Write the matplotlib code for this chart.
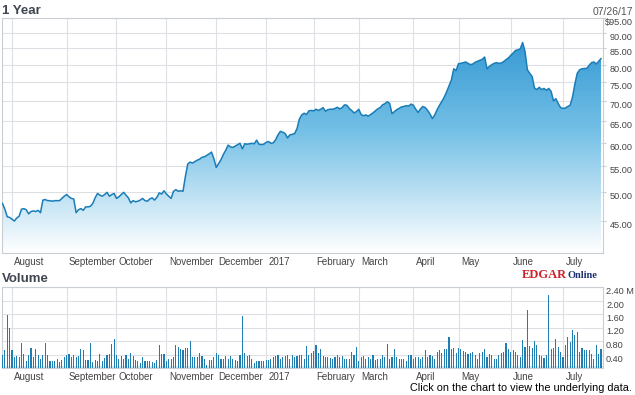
import numpy as np
import pandas as pd
import matplotlib
matplotlib.use("Agg")
import matplotlib.pyplot as plt
from matplotlib.colors import LinearSegmentedColormap
from matplotlib.ticker import NullLocator, NullFormatter

plt.rcParams["font.family"] = ["Liberation Sans", "DejaVu Sans"]

# trading days 07/26/16 - 07/26/17 (NYSE holidays removed)
holidays = ["2016-09-05", "2016-11-24", "2016-12-26", "2017-01-02", "2017-01-16",
            "2017-02-20", "2017-04-14", "2017-05-29", "2017-07-04"]
dates = pd.bdate_range("2016-07-26", "2017-07-26", freq="C", holidays=holidays)

close = [
    48.0, 47.0, 45.7, 45.6, 45.3, 45.0, 45.5, 45.8, 47.0, 47.1,
    46.9, 46.2, 46.6, 46.7, 46.6, 46.8, 46.4, 48.6, 48.7, 48.5,
    48.5, 48.4, 48.5, 48.5, 48.5, 48.9, 49.3, 49.6, 49.2, 48.9,
    48.8, 46.4, 46.9, 47.1, 46.8, 47.4, 47.4, 47.5, 48.0, 49.0,
    49.8, 49.5, 49.3, 49.6, 50.0, 49.3, 49.6, 49.8, 48.9, 49.2,
    49.6, 50.0, 49.5, 49.0, 48.1, 48.5, 48.3, 48.4, 48.6, 48.9,
    48.5, 48.4, 48.8, 49.0, 48.6, 49.1, 49.9, 49.7, 50.3, 49.7,
    49.3, 48.9, 50.2, 50.5, 50.2, 50.3, 50.2, 53.0, 55.5, 55.9,
    55.7, 56.0, 56.3, 56.5, 56.9, 57.0, 57.3, 57.6, 58.0, 56.6,
    54.8, 55.6, 56.4, 57.5, 58.4, 59.5, 59.1, 59.0, 59.3, 59.6,
    59.9, 58.7, 59.8, 59.7, 59.8, 59.9, 59.8, 60.6, 59.7, 59.6,
    59.7, 60.1, 60.3, 59.9, 60.0, 60.7, 61.8, 62.6, 62.4, 62.1,
    61.1, 61.8, 61.9, 62.1, 63.2, 65.5, 66.5, 66.9, 66.6, 67.5,
    67.6, 67.5, 67.9, 67.6, 67.9, 68.3, 67.4, 67.8, 67.9, 67.9,
    68.1, 68.4, 68.0, 68.3, 69.0, 68.9, 68.1, 67.6, 67.0, 67.3,
    67.9, 66.6, 66.3, 66.5, 66.2, 66.6, 67.0, 67.5, 68.0, 68.3,
    69.0, 69.3, 69.8, 69.4, 66.8, 67.3, 67.8, 68.1, 68.5, 68.6,
    68.8, 68.7, 69.2, 68.9, 67.9, 67.1, 68.0, 68.6, 68.3, 67.6,
    66.7, 65.6, 66.5, 67.8, 68.9, 69.9, 71.0, 72.4, 74.0, 75.6,
    78.8, 78.3, 80.3, 80.4, 80.6, 80.8, 80.4, 80.0, 80.2, 80.7,
    81.0, 81.3, 81.6, 82.3, 78.8, 79.5, 80.0, 80.4, 80.6, 80.4,
    80.5, 80.9, 81.5, 82.0, 82.8, 83.5, 84.3, 84.5, 84.8, 86.8,
    84.0, 78.5, 77.5, 76.6, 73.4, 73.0, 73.6, 73.0, 73.3, 72.8,
    73.3, 72.5, 70.0, 70.6, 69.3, 68.3, 68.1, 68.2, 68.6, 68.9,
    71.0, 74.5, 77.5, 78.5, 78.8, 78.9, 78.9, 79.8, 80.6, 80.8,
    80.2, 81.0, 81.8,
]

# volume in millions of shares
volume_m = [
    0.40, 0.52, 1.56, 1.19, 0.52, 0.33, 0.36, 0.33, 0.74, 0.42,
    0.20, 0.40, 0.59, 0.33, 0.55, 0.38, 0.26, 0.38, 0.75, 0.40,
    0.22, 0.20, 0.20, 0.26, 0.18, 0.23, 0.33, 0.38, 0.42, 0.33,
    0.38, 0.33, 0.35, 0.55, 0.52, 0.23, 0.23, 0.75, 0.18, 0.23,
    0.20, 0.41, 0.20, 0.30, 0.40, 0.42, 0.72, 0.85, 0.40, 0.28,
    0.36, 0.26, 0.38, 0.28, 0.45, 0.36, 0.23, 0.20, 0.16, 0.33,
    0.20, 0.22, 0.22, 0.18, 0.16, 0.23, 0.69, 0.42, 0.42, 0.20,
    0.28, 0.26, 0.33, 0.67, 0.62, 0.55, 0.52, 0.59, 0.59, 0.79,
    0.33, 0.33, 0.33, 0.45, 0.36, 0.26, 0.10, 0.23, 0.23, 0.33,
    0.45, 0.40, 0.28, 0.28, 0.36, 0.28, 0.36, 0.28, 0.25, 0.22,
    0.40, 1.53, 0.45, 0.36, 0.38, 0.26, 0.16, 0.22, 0.22, 0.22,
    0.20, 0.23, 0.23, 0.26, 0.33, 0.36, 0.38, 0.28, 0.33, 0.36,
    0.40, 0.28, 0.40, 0.33, 0.36, 0.40, 0.40, 0.26, 0.64, 0.40,
    0.45, 0.49, 0.69, 0.45,
    0.55, 0.35, 0.33, 0.33, 0.30, 0.26, 0.33, 0.38, 0.33, 0.35, 0.26,
    0.28, 0.28, 0.47, 0.40, 0.62, 0.20, 0.33, 0.36,
    0.26, 0.33, 0.26, 0.38, 0.23, 0.28, 0.28, 0.38, 0.32, 0.70,
    0.26, 0.33, 0.55, 0.33, 0.28, 0.26,
    0.26, 0.20, 0.40,
    0.40, 0.26, 0.33, 0.33, 0.26, 0.33, 0.52, 0.33, 0.40, 0.36,
    0.28, 0.47, 0.52, 0.45, 0.55, 0.57, 0.92, 0.57, 0.59, 0.45,
    0.59, 0.55, 0.49, 0.47, 0.42, 0.45, 0.47, 0.38, 0.28, 0.45,
    0.47, 0.55, 0.33, 0.41, 0.40, 0.26, 0.26, 0.40, 0.45, 0.47,
    0.74, 0.55, 0.47, 0.54, 0.47, 0.40, 0.33, 0.82, 0.62, 1.73,
    0.64, 0.59, 0.79, 0.69, 0.40, 0.36, 0.30, 0.40, 2.17, 0.55,
    0.59, 0.87, 0.62, 0.47, 0.33, 0.69, 0.92, 0.77, 1.12, 0.99,
    1.07, 0.47, 0.59, 0.52, 0.52, 0.52, 0.42, 0.26, 0.67, 0.42,
    0.55,
]

month_labels = ["August", "September", "October", "November", "December", "2017",
                "February", "March", "April", "May", "June", "July"]
price_ticks = [45, 50, 55, 60, 65, 70, 75, 80, 85, 90, 95]
price_labels = ["45.00", "50.00", "55.00", "60.00", "65.00", "70.00",
                "75.00", "80.00", "85.00", "90.00", "$95.00"]
vol_ticks = [0.4, 0.8, 1.2, 1.6, 2.0, 2.4]
vol_labels = ["0.40", "0.80", "1.20", "1.60", "2.00", "2.40 M"]

x = np.arange(len(close))
xv = np.arange(len(volume_m))
month_pos = np.flatnonzero(np.diff(dates.month) != 0) + 1

W, H = 635, 395
fig = plt.figure(figsize=(W / 100, H / 100), dpi=100)


def px_axes(l, t, r, b):
    return fig.add_axes([l / W, 1 - b / H, (r - l) / W, (b - t) / H])


grid_c = "#dde1e6"
spine_c = "#c9ced5"
text_c = "#444444"
xlim = (-0.21, 252.84)


def month_axis(a):
    # gridlines on the first trading day, label a little to the right of it
    a.set_xticks(month_pos)
    a.set_xticklabels([])
    a.set_xticks(month_pos + 1.0, month_labels, minor=True, ha="left")
    a.tick_params(axis="x", which="both", length=0, pad=3, labelsize=7,
                  labelcolor=text_c)
    a.grid(True, which="major", color=grid_c, lw=0.8)
    a.set_axisbelow(True)
    for s in a.spines.values():
        s.set_color(spine_c)
        s.set_linewidth(0.8)


# ---- price panel ----
ax = px_axes(2, 18, 603, 253)
cmap = LinearSegmentedColormap.from_list(
    "fill", [(0, "#ffffff"), (0.52, "#74c0e6"), (1, "#2790cf")])
grad = np.linspace(0, 1, 256).reshape(-1, 1)
im = ax.imshow(grad, cmap=cmap, aspect="auto", extent=[0, 1, 0, 1],
               origin="lower", transform=ax.transAxes, zorder=1)
ax.set_yscale("log")
ax.set_xlim(*xlim)
ax.set_ylim(40, 95)
poly = ax.fill_between(x, close, 40, facecolor="none", edgecolor="none")
im.set_clip_path(poly.get_paths()[0], transform=ax.transData)
ax.plot(x, close, color="#1a7db7", lw=1.1, zorder=3)

ax.yaxis.tick_right()
ax.set_yticks(price_ticks, price_labels, ha="right", va="top")
ax.yaxis.set_minor_locator(NullLocator())
ax.yaxis.set_minor_formatter(NullFormatter())
ax.tick_params(axis="y", length=2, color=spine_c, pad=19.5, labelsize=6.6,
               labelcolor=text_c)
month_axis(ax)

# ---- volume panel ----
axv = px_axes(2, 287, 603, 368)
axv.bar(xv, volume_m, width=0.45, color="#1f7db2", zorder=3)
axv.axhline(0.02, color="#cde8f6", lw=2, zorder=2)
axv.set_xlim(*xlim)
axv.set_ylim(0, 2.4)
axv.yaxis.tick_right()
axv.set_yticks(vol_ticks, vol_labels, va="top")
axv.tick_params(axis="y", length=0, pad=2.2, labelsize=6.6, labelcolor=text_c)
month_axis(axv)

# ---- titles and captions ----
fig.text(2 / W, 1 - 14 / H, "1 Year", fontsize=9.5, fontweight="bold",
         color="#3f4651", va="baseline")
fig.text(633 / W, 1 - 15 / H, "07/26/17", fontsize=7.5, color="#555555",
         ha="right", va="baseline")
fig.text(2 / W, 1 - 282 / H, "Volume", fontsize=9.5, fontweight="bold",
         color="#3f4651", va="baseline")
fig.text(522 / W, 1 - 278 / H, "EDGAR", fontsize=9, fontweight="bold",
         family="Liberation Serif", color="#cc2229", va="baseline")
fig.text(567 / W, 1 - 278 / H, "Online", fontsize=7.5, fontweight="bold",
         family="Liberation Serif", color="#1d3170", va="baseline")
fig.text(632 / W, 1 - 391 / H, "Click on the chart to view the underlying data.",
         fontsize=7.8, color="black", ha="right", va="baseline")

fig.savefig("out.png", dpi=100)
